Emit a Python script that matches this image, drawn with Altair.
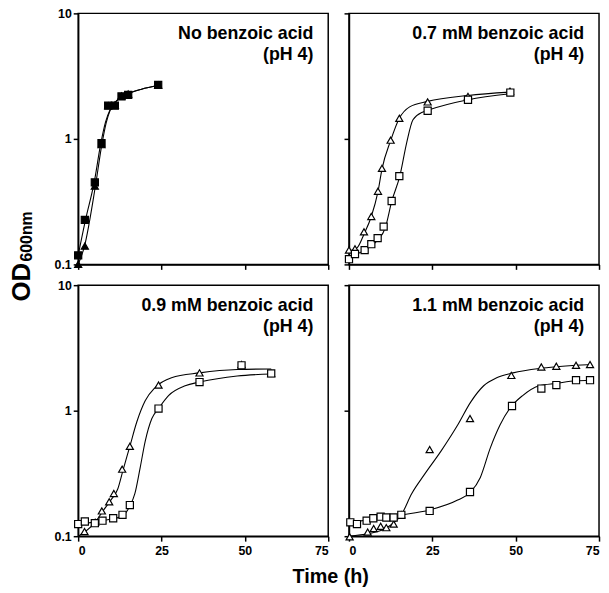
import altair as alt
import pandas as pd

FONT = "Liberation Sans"
W = 253
H = 254
GAP = 21

# ---------------- data ----------------
title_line1 = ["No benzoic acid", "0.7 mM benzoic acid", "0.9 mM benzoic acid", "1.1 mM benzoic acid"]
title_line2 = ["(pH 4)", "(pH 4)", "(pH 4)", "(pH 4)"]
y_title_main = "OD"
y_title_sub = "600nm"
x_title = "Time (h)"

x_ticks = [0, 25, 50, 75]
y_ticks = [0.1, 1, 10]

# Panel A: no benzoic acid
a_tri_t = [0, 2, 5, 7, 9, 11, 13, 15, 24]
a_tri_od = [0.10, 0.14, 0.42, 0.90, 1.84, 1.86, 2.20, 2.28, 2.69]
a_sq_t = [0, 2, 5, 7, 9, 11, 13, 15, 24]
a_sq_od = [0.118, 0.226, 0.45, 0.925, 1.84, 1.84, 2.18, 2.24, 2.69]
a_tri_ct = [0, 1.9, 5.1, 7.1, 8.4, 9.7, 12.1, 15.1, 19, 24]
a_tri_cv = [0.100, 0.14, 0.41, 0.90, 1.34, 1.72, 2.07, 2.30, 2.49, 2.66]
a_sq_ct = [0, 2.2, 4.8, 6.8, 8.2, 9.7, 12.1, 15.1, 19, 24]
a_sq_cv = [0.118, 0.226, 0.45, 0.925, 1.36, 1.74, 2.08, 2.30, 2.49, 2.66]

# Panel B: 0.7 mM
b_tri_t = [0, 1.8, 4.5, 6.7, 8.7, 9.9, 12.5, 15.1, 23.6, 35.7, 48.3]
b_tri_od = [0.13, 0.133, 0.182, 0.241, 0.383, 0.583, 0.977, 1.46, 1.97, 2.18, 2.40]
b_sq_t = [0, 1.8, 4.7, 6.7, 8.6, 10.4, 12.8, 15.1, 23.6, 35.7, 48.4]
b_sq_od = [0.11, 0.121, 0.13, 0.145, 0.162, 0.20, 0.32, 0.505, 1.675, 2.05, 2.34]
b_tri_ct = [0, 2.5, 4.5, 6.7, 8.7, 9.9, 12.5, 15.1, 18.2, 23.6, 35.7, 48.3]
b_tri_cv = [0.127, 0.136, 0.174, 0.241, 0.38, 0.575, 0.97, 1.46, 1.80, 1.99, 2.22, 2.36]
b_sq_ct = [0, 4.5, 8.4, 10.9, 12.8, 15.3, 17.3, 19.2, 22.2, 23.6, 35.7, 48.5]
b_sq_cv = [0.114, 0.129, 0.154, 0.196, 0.316, 0.512, 0.93, 1.42, 1.64, 1.69, 2.05, 2.29]

# Panel C: 0.9 mM
c_tri_t = [1.9, 5.1, 7.1, 9.3, 10.7, 13.2, 15.5, 24.1, 36.4, 49, 57.9]
c_tri_od = [0.109, 0.129, 0.159, 0.188, 0.219, 0.342, 0.52, 1.60, 2.00, 2.33, 1.98]
c_sq_t = [0, 2, 5, 7.3, 10.5, 13.3, 15.5, 24.1, 36.4, 49, 57.9]
c_sq_od = [0.125, 0.131, 0.127, 0.133, 0.139, 0.148, 0.177, 1.04, 1.69, 2.30, 1.98]
c_tri_ct = [0, 1.9, 5.1, 7.3, 9.8, 11.9, 13.4, 15.5, 17.6, 20.1, 23.1, 28, 36.4, 47.7, 57.9]
c_tri_cv = [0.100, 0.108, 0.129, 0.157, 0.194, 0.239, 0.332, 0.52, 0.816, 1.20, 1.53, 1.83, 2.00, 2.13, 2.15]
c_sq_ct = [0, 7.3, 13.3, 15.5, 17, 18.6, 20.1, 22.1, 24.1, 27.1, 32.1, 36.4, 47.7, 57.9]
c_sq_cv = [0.125, 0.133, 0.145, 0.174, 0.218, 0.352, 0.57, 0.866, 1.04, 1.32, 1.58, 1.69, 1.89, 1.96]

# Panel D: 1.1 mM
d_tri_t = [0.2, 5.6, 7.4, 9.5, 11.2, 13.4, 15.7, 24.2, 36.3, 48.7, 57.7, 62.2, 68.1, 72.3]
d_tri_od = [0.099, 0.108, 0.115, 0.12, 0.117, 0.125, 0.148, 0.49, 0.866, 1.91, 2.23, 2.26, 2.30, 2.33]
d_sq_t = [0.4, 2.4, 5.3, 7.3, 9.5, 11.2, 13.4, 15.7, 24.2, 36.3, 48.9, 57.7, 62.2, 68.1, 72.3]
d_sq_od = [0.129, 0.125, 0.133, 0.139, 0.143, 0.141, 0.141, 0.148, 0.159, 0.225, 1.09, 1.50, 1.60, 1.75, 1.75]
d_tri_ct = [0, 6, 10, 13, 15.7, 18.8, 22.7, 27.6, 32.6, 36.5, 40.4, 44.3, 49.2, 57.1, 62.2, 68.1, 72.3]
d_tri_cv = [0.100, 0.105, 0.112, 0.125, 0.148, 0.218, 0.312, 0.476, 0.768, 1.17, 1.58, 1.83, 2.00, 2.17, 2.24, 2.30, 2.33]
d_sq_ct = [0, 8, 15.7, 24.2, 32.6, 36.5, 39.4, 42.4, 45.3, 48.2, 52.1, 57.1, 62.2, 68.1, 72.3]
d_sq_cv = [0.128, 0.138, 0.148, 0.162, 0.194, 0.225, 0.294, 0.505, 0.768, 1.04, 1.32, 1.58, 1.65, 1.73, 1.75]

panels = [
    (a_tri_t, a_tri_od, a_sq_t, a_sq_od, a_tri_ct, a_tri_cv, a_sq_ct, a_sq_cv),
    (b_tri_t, b_tri_od, b_sq_t, b_sq_od, b_tri_ct, b_tri_cv, b_sq_ct, b_sq_cv),
    (c_tri_t, c_tri_od, c_sq_t, c_sq_od, c_tri_ct, c_tri_cv, c_sq_ct, c_sq_cv),
    (d_tri_t, d_tri_od, d_sq_t, d_sq_od, d_tri_ct, d_tri_cv, d_sq_ct, d_sq_cv),
]


def frame(tt, ot, ts, os_):
    return pd.DataFrame(
        {
            "t": list(tt) + list(ts),
            "od": list(ot) + list(os_),
            "series": ["tri"] * len(tt) + ["sq"] * len(ts),
        }
    )


def text_layer(label, **mark):
    return alt.Chart(pd.DataFrame({"label": [label]})).mark_text(
        font=FONT, fontWeight="bold", color="black", **mark
    )


def make_panel(i, show_x, show_y, solid):
    tt, ot, ts, os_, ctt, cot, cts, cos = panels[i]
    pts = frame(tt, ot, ts, os_)
    crv = frame(ctt, cot, cts, cos)

    x = alt.X(
        "t:Q",
        scale=alt.Scale(domain=[0, 75], nice=False, zero=False),
        axis=alt.Axis(values=x_ticks, labels=show_x, title=None, tickSize=5,
                      labelPadding=4, grid=False, format="d"),
    )
    if i == 0:
        yaxis = alt.Axis(values=y_ticks, labels=True, tickSize=5, labelPadding=2,
                         grid=False, format="~g", title=y_title_main,
                         titleAngle=270, titleAlign="left", titleBaseline="alphabetic",
                         titleX=-49, titleY=291, titleFont=FONT, titleFontSize=26,
                         titleFontWeight="bold", titleColor="black")
    else:
        yaxis = alt.Axis(values=y_ticks, labels=show_y, title=None, tickSize=5,
                         labelPadding=2, grid=False, format="~g")
    y = alt.Y(
        "od:Q",
        scale=alt.Scale(type="log", domain=[0.1, 10], nice=False),
        axis=yaxis,
    )

    lines = alt.Chart(crv).mark_line(
        color="black", strokeWidth=1.1, interpolate="monotone", clip=True
    ).encode(x=x, y=y, detail="series:N")

    fill = "black" if solid else "white"
    points = alt.Chart(pts).mark_point(
        filled=True, fill=fill, stroke="black", strokeWidth=1.2,
        size=52, opacity=1, fillOpacity=1
    ).encode(
        x=x, y=y,
        shape=alt.Shape("series:N",
                        scale=alt.Scale(domain=["tri", "sq"], range=["triangle-up", "square"]),
                        legend=None),
    )

    t1 = text_layer(title_line1[i], align="right", baseline="alphabetic", fontSize=18).encode(
        x=alt.value(W - 15), y=alt.value(26), text="label:N")
    t2 = text_layer(title_line2[i], align="right", baseline="alphabetic", fontSize=18).encode(
        x=alt.value(W - 15), y=alt.value(47), text="label:N")

    layers = [lines, points, t1, t2]

    if i == 0:
        sub = text_layer(y_title_sub, align="left", baseline="alphabetic", fontSize=16,
                         angle=270).encode(x=alt.value(-47), y=alt.value(251), text="label:N")
        layers.append(sub)
    if i == 2:
        xt = text_layer(x_title, align="center", baseline="alphabetic", fontSize=20).encode(
            x=alt.value(W + GAP / 2 - 8), y=alt.value(H + 47), text="label:N")
        layers.append(xt)

    return alt.layer(*layers).properties(width=W, height=H)


charts = [
    make_panel(0, False, True, True),
    make_panel(1, False, False, False),
    make_panel(2, True, True, False),
    make_panel(3, True, False, False),
]

chart = alt.ConcatChart(
    concat=charts, columns=2, spacing=GAP, bounds="flush"
).configure_view(
    stroke="black", strokeWidth=1.5
).configure_axis(
    domainColor="black", domainWidth=1.5, tickColor="black", tickWidth=1.5,
    labelFont=FONT, labelFontWeight="bold", labelFontSize=12.5, labelColor="black",
).properties(
    padding={"top": -5, "left": 0, "right": 0, "bottom": 0}
)

chart.save("out.html", embed_options={"renderer": "svg", "actions": False})
